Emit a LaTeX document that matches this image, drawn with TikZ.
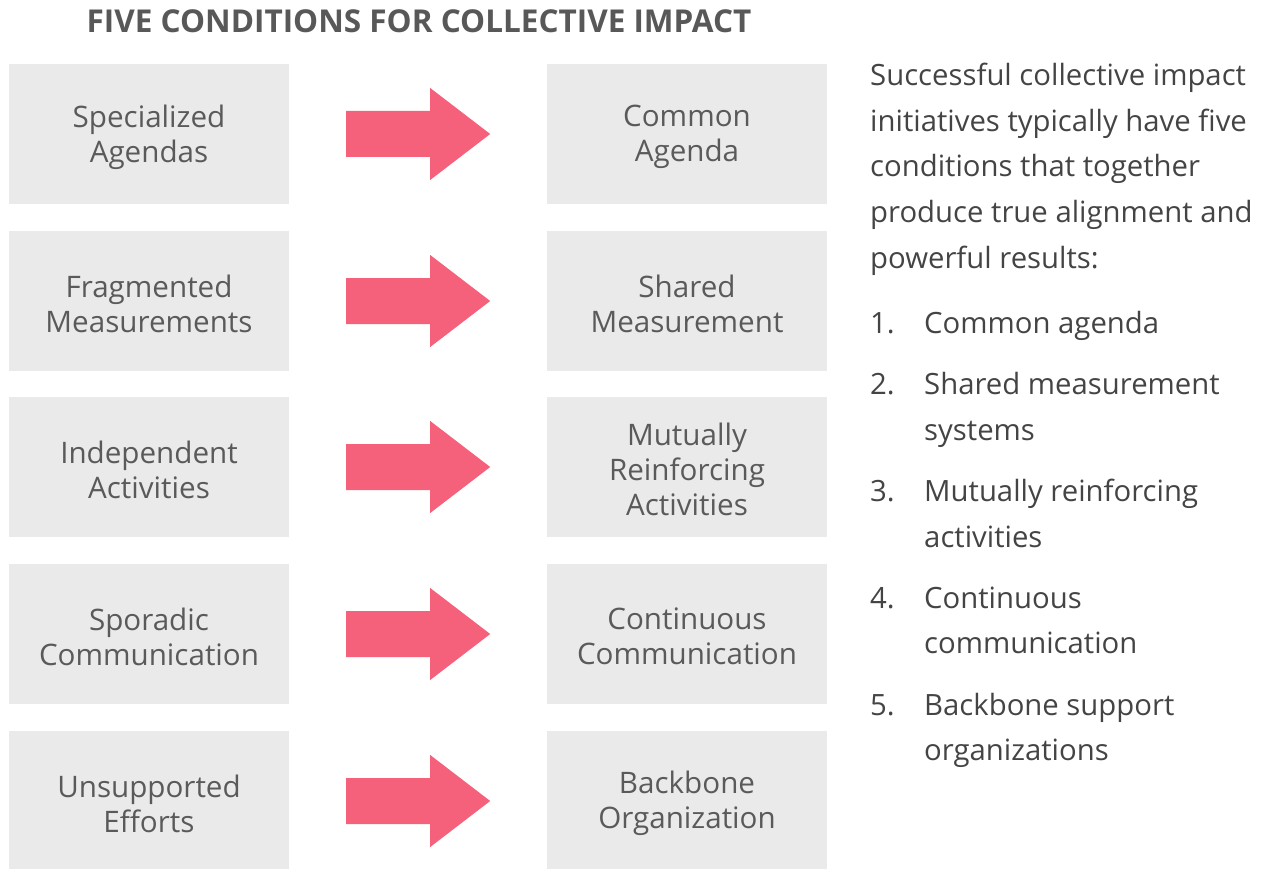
\documentclass[tikz,border=0pt]{standalone}
\usepackage{fontspec}
\setmainfont{Open Sans}
\usetikzlibrary{calc}
\definecolor{boxgray}{HTML}{EAEAEA}
\definecolor{boxtext}{HTML}{5A5A5A}
\definecolor{arrowpink}{HTML}{F5607B}
\definecolor{bodytext}{HTML}{444444}
\definecolor{titlegray}{HTML}{585858}
\begin{document}
\begin{tikzpicture}[x=1pt,y=-1pt,
  box/.style={fill=boxgray, minimum width=280pt, minimum height=140pt, inner sep=0pt},
  boxlabel/.style={align=center, text=boxtext, inner sep=0pt, font=\fontsize{29.6}{35}\selectfont},
  bigarrow/.style={fill=arrowpink},
  para/.style={anchor=base west, inner sep=0pt, text=bodytext, font=\fontsize{29.3}{34}\selectfont},
  title/.style={text=titlegray, font=\bfseries\fontsize{31.5}{36}\selectfont}]
\useasboundingbox (0,0) rectangle (1263,869);

\node[title] (title) at (419,21) {FIVE CONDITIONS FOR COLLECTIVE IMPACT};

% left column: current state, right column: collective impact condition
\foreach \i/\y/\ltxt/\rtxt in {
  1/134/{Specialized\\Agendas}/{Common\\Agenda},
  2/301/{Fragmented\\Measurements}/{Shared\\Measurement},
  3/467/{Independent\\Activities}/{Mutually\\Reinforcing\\Activities},
  4/634/{Sporadic\\Communication}/{Continuous\\Communication},
  5/801/{Unsupported\\Efforts}/{Backbone\\Organization}} {
  \node[box] (L\i) at (149,\y) {};
  \node[box] (R\i) at (687,\y) {};
  \node[boxlabel] (LT\i) at ($(L\i.center)+(0,3)$) {\ltxt};
  \node[boxlabel] (RT\i) at ($(R\i.center)+(0,2.5)$) {\rtxt};
  \coordinate (A\i) at ($(L\i.east)+(57,0)$);
  \fill[bigarrow] ($(A\i)+(0,-23)$) -- ++(84,0) -- ++(0,-23) -- ++(60,46)
    -- ++(-60,46) -- ++(0,-23) -- ++(-84,0) -- cycle;
}

% explanatory text and numbered list
\node[para] (p1) at (870,86) {Successful collective impact};
\node[para] (p2) at (870,131.5) {initiatives typically have five};
\node[para] (p3) at (870,177) {conditions that together};
\node[para] (p4) at (870,222.5) {produce true alignment and};
\node[para] (p5) at (870,268) {powerful results:};

\foreach \n/\y/\first/\second in {
  1/333/{Common agenda}/{},
  2/394.5/{Shared measurement}/{systems},
  3/501.5/{Mutually reinforcing}/{activities},
  4/608/{Continuous}/{communication},
  5/715/{Backbone support}/{organizations}} {
  \node[para] (n\n) at (870,\y) {\n.};
  \node[para] (t\n) at (924,\y) {\first};
  \node[para] (s\n) at (924,\y+45.5) {\second};
}
\end{tikzpicture}
\end{document}
